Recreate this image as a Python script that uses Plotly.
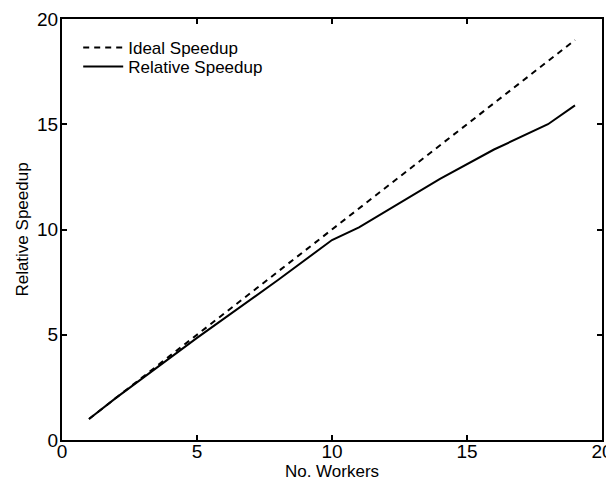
import plotly.graph_objects as go

# number of workers and measured speedup
workers = [1, 2, 4, 5, 8, 10, 11, 14, 16, 18, 19]
rel_speedup = [1, 2, 3.9, 4.85, 7.6, 9.5, 10.1, 12.4, 13.8, 15.0, 15.9]

ideal_x = [1, 19]
ideal_y = [1, 19]

fig = go.Figure()
fig.add_trace(go.Scatter(x=ideal_x, y=ideal_y, mode='lines', name='Ideal Speedup',
                         line=dict(color='black', width=2, dash='6px,5px'), legend='legend'))
fig.add_trace(go.Scatter(x=workers, y=rel_speedup, mode='lines', name='Relative Speedup',
                         line=dict(color='black', width=2), legend='legend2'))

axis_style = dict(range=[0, 20], dtick=5, showgrid=False, zeroline=False,
                  showline=True, linecolor='black', linewidth=2, mirror='ticks',
                  ticks='inside', ticklen=5, tickwidth=2, tickcolor='black',
                  automargin=False, tickfont=dict(size=19, color='black'))

leg = dict(xanchor='left', yanchor='middle', bgcolor='rgba(0,0,0,0)',
           font=dict(size=17), itemwidth=40)

# page body adds ~8px offset, margins compensate for it
fig.update_layout(
    width=614, height=486,
    margin=dict(l=54, r=20, t=11, b=54),
    paper_bgcolor='white', plot_bgcolor='white',
    font=dict(family='Liberation Sans, Arial, sans-serif', color='black'),
    xaxis=dict(axis_style, ticklabelstandoff=-7,
               title=dict(text='No. Workers', font=dict(size=17), standoff=3)),
    yaxis=dict(axis_style, ticklabelstandoff=-2,
               title=dict(text='Relative Speedup', font=dict(size=17), standoff=4)),
    legend=dict(leg, x=0.03, y=0.931),
    legend2=dict(leg, x=0.03, y=0.886),
    showlegend=True,
)

fig.write_html("out.html")
